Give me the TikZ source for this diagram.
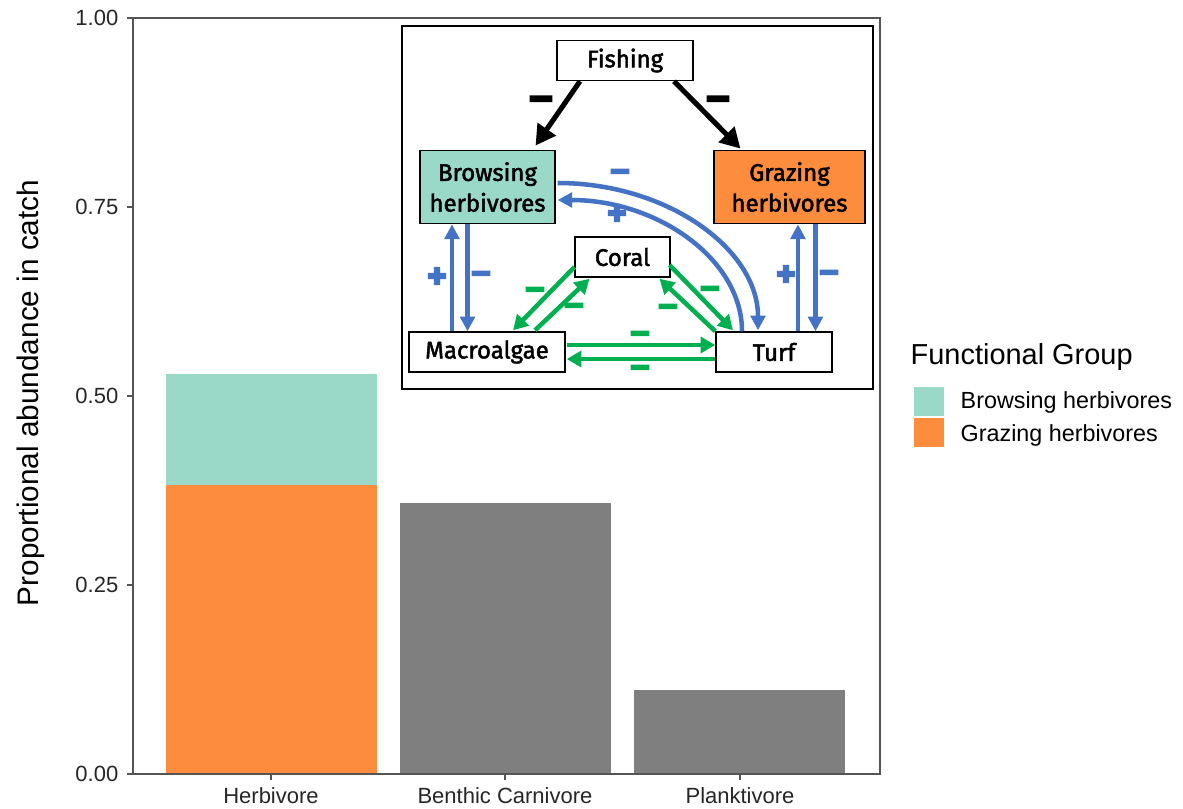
\documentclass[tikz,border=0pt]{standalone}
\usepackage{fontspec}
\usepackage{graphicx}
\setmainfont{Liberation Sans}
\newfontfamily\insetfont{Fira Sans}[FakeBold=2]
\newfontfamily\signfont{DejaVu Sans}[BoldFeatures={FakeBold=14}]
\newcommand{\mns}{\scalebox{1.15}[1]{\signfont\bfseries\fontsize{16}{16}\selectfont −}}
\newcommand{\pls}{{\signfont\bfseries\fontsize{18}{18}\selectfont +}}
\usetikzlibrary{arrows.meta,calc}
\definecolor{bteal}{HTML}{9AD8C8}
\definecolor{gorange}{HTML}{FD8D3C}
\definecolor{bargray}{HTML}{7F7F7F}
\definecolor{axgray}{HTML}{555555}
\definecolor{lblue}{HTML}{4472C4}
\definecolor{lgreen}{HTML}{00B050}
\tikzset{
  tick/.style={font=\fontsize{16.5}{18}\selectfont, text=black!85},
  fbox/.style={draw=black, line width=1.1pt, minimum height=30pt, inner sep=2pt, font=\insetfont\fontsize{18}{23}\selectfont, align=center},
  blk/.style={draw=black, line width=3.8pt, -{Triangle[length=15pt,width=16pt]}},
  blu/.style={draw=lblue, line width=3.4pt, -{Triangle[length=11pt,width=11pt]}},
  grn/.style={draw=lgreen, line width=3.4pt, -{Triangle[length=11pt,width=12pt]}},
  sgn/.style={inner sep=0pt},
}
\begin{document}
\begin{tikzpicture}[x=0.75pt,y=-0.75pt]
\useasboundingbox (0,0) rectangle (1183,808);
% bars
\fill[gorange] (166,774) rectangle (377,485);
\fill[bteal] (166,485) rectangle (377,374);
\fill[bargray] (400,774) rectangle (611,503);
\fill[bargray] (634,774) rectangle (845,690);
% panel
\draw[axgray, line width=0.8pt] (133,18) rectangle (880,774);
\foreach \yy/\lab in {774/0.00,585/0.25,396/0.50,207/0.75,18/1.00}{
  \draw[axgray, line width=0.8pt] (127,\yy) -- (133,\yy);
  \node[tick, anchor=east] (yt\lab) at (123,\yy) {\lab};
}
\foreach \xx/\lab/\nm in {271/Herbivore/h,505/Benthic Carnivore/b,740/Planktivore/p}{
  \draw[axgray, line width=0.8pt] (\xx,774) -- (\xx,780);
  \node[tick] (xt\nm) at (\xx,796) {\lab};
}
\node[rotate=90, font=\fontsize{22.3}{24}\selectfont] (ytitle) at (31,393) {Proportional abundance in catch};
% legend
\node[anchor=west, font=\fontsize{21.7}{24}\selectfont] (legtitle) at (906,357) {Functional Group};
\fill[bteal] (914,387) rectangle (944,416);
\fill[gorange] (914,418) rectangle (944,447);
\node[anchor=west, font=\fontsize{17.5}{20}\selectfont] (leg1) at (956,402) {Browsing herbivores};
\node[anchor=west, font=\fontsize{17.5}{20}\selectfont] (leg2) at (956,435) {Grazing herbivores};
% inset
\draw[black, line width=0.8pt, fill=white] (402,26) rectangle (873,389);
\node[fbox, minimum width=102pt] (fish) at (625,60.5) {Fishing};
\node[fbox, fill=bteal, minimum width=101pt, minimum height=55pt, inner sep=1pt] (brow) at (487.5,187) {Browsing\\herbivores};
\node[fbox, fill=gorange, minimum width=113pt, minimum height=55pt, inner sep=1pt] (graz) at (789.5,187) {Grazing\\herbivores};
\node[fbox, minimum width=71pt] (coral) at (622.5,257) {Coral};
\node[fbox, minimum width=117pt] (macro) at (487,352) {Macroalgae};
\node[fbox, minimum width=87pt] (turf) at (774,352) {Turf};
% fishing arrows
\draw[blk] ($(fish.south)+(-45,0)$) -- ($(brow.north)+(48,-4)$);
\draw[blk] ($(fish.south)+(49,0)$) -- ($(graz.north)+(-49,-1)$);
\node[sgn] (s1) at (541,102) {\scalebox{1.2}{\mns}};
\node[sgn] (s2) at (718,102) {\scalebox{1.2}{\mns}};
% blue arcs
\draw[blu] ($(brow.east)+(2,-4)$) .. controls ($(brow.east)+(112,-4)$) and ($(turf.north)+(-16,-82)$) .. ($(turf.north)+(-16,-1)$);
\draw[blu] ($(turf.north)+(-32,0)$) .. controls ($(turf.north)+(-32,-72)$) and ($(brow.east)+(102,13)$) .. ($(brow.east)+(2,13)$);
\node[sgn, text=lblue] (s3) at (620,174) {\mns};
\node[sgn, text=lblue] (s4) at (617,213) {\pls};
% blue verticals
\draw[blu] ($(macro.north)+(-35,0)$) coordinate (bu1) -- (bu1 |- brow.south);
\draw[blu] ($(brow.south)+(-20,0)$) coordinate (bd1) -- (bd1 |- macro.north);
\draw[blu] ($(turf.north)+(24,0)$) coordinate (bu2) -- (bu2 |- graz.south);
\draw[blu] ($(graz.south)+(26,0)$) coordinate (bd2) -- (bd2 |- turf.north);
\node[sgn, text=lblue] (s5) at (437,276) {\pls};
\node[sgn, text=lblue] (s6) at (481,276) {\mns};
\node[sgn, text=lblue] (s7) at (786,274) {\pls};
\node[sgn, text=lblue] (s8) at (829,275) {\mns};
% green
\draw[grn] ($(coral.west)+(0,10)$) -- ($(macro.north)+(26,-1)$);
\draw[grn] ($(macro.north)+(48,-1)$) -- ($(coral.south)+(-33,1)$);
\draw[grn] ($(coral.east)+(-1,8)$) -- ($(turf.north)+(-41,-1)$);
\draw[grn] ($(turf.north west)+(0,0)$) -- ($(coral.south)+(37,1)$);
\draw[grn] ($(macro.east)+(1,-7)$) -- ($(turf.west)+(0,-7)$);
\draw[grn] ($(turf.west)+(0,7)$) -- ($(macro.east)+(1,7)$);
\node[sgn, text=lgreen] (s9) at (535,292) {\mns};
\node[sgn, text=lgreen] (s10) at (574,308) {\mns};
\node[sgn, text=lgreen] (s11) at (710,291) {\mns};
\node[sgn, text=lgreen] (s12) at (668,309) {\mns};
\node[sgn, text=lgreen] (s13) at (640,336) {\mns};
\node[sgn, text=lgreen] (s14) at (640,370) {\mns};
\end{tikzpicture}
\end{document}
